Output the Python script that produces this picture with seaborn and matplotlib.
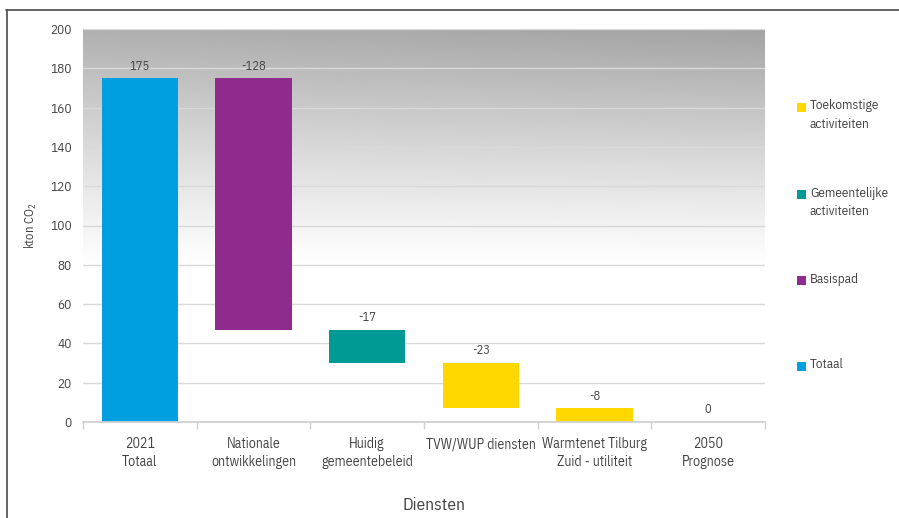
import numpy as np
import pandas as pd
import matplotlib
matplotlib.use("Agg")
import matplotlib.pyplot as plt
import seaborn as sns
from matplotlib.patches import Rectangle
from matplotlib.lines import Line2D

# --- data -------------------------------------------------------------
categories = ["2021\nTotaal", "Nationale\nontwikkelingen", "Huidig\ngemeentebeleid",
              "TVW/WUP diensten", "Warmtenet Tilburg\nZuid - utiliteit", "2050\nPrognose"]
values = [175, -128, -17, -23, -8, 0]
kinds = ["total", "delta", "delta", "delta", "delta", "total"]
groups = ["Totaal", "Basispad", "Gemeentelijke\nactiviteiten", "Toekomstige\nactiviteiten",
          "Toekomstige\nactiviteiten", "Totaal"]
legend_order = ["Toekomstige\nactiviteiten", "Gemeentelijke\nactiviteiten", "Basispad", "Totaal"]
group_colors = {"Totaal": "#009FDF", "Basispad": "#8E2B8C",
                "Gemeentelijke\nactiviteiten": "#009A96", "Toekomstige\nactiviteiten": "#FFD800"}

# waterfall geometry from the step values
bottoms, heights, tops = [], [], []
level = 0
for v, k in zip(values, kinds):
    if k == "total":
        level = v
        bottoms.append(0); heights.append(v); tops.append(v)
    else:
        new = level + v
        bottoms.append(min(level, new)); heights.append(abs(v)); tops.append(max(level, new))
        level = new

df = pd.DataFrame({"categorie": categories, "hoogte": heights, "basis": bottoms})

# --- style ------------------------------------------------------------
sns.set_theme(style="white")
FONT = "IBM Plex Sans Condensed"
plt.rcParams["font.family"] = [FONT, "DejaVu Sans"]
plt.rcParams["mathtext.fontset"] = "custom"
plt.rcParams["mathtext.rm"] = FONT
text_color = "#444444"

fig = plt.figure(figsize=(8.99, 5.18), dpi=100)
ax = fig.add_axes([83 / 899, 1 - 422 / 518, 682 / 899, 393 / 518])

# grey-to-white gradient backdrop
ny, nx = 200, 200
yy, xx = np.mgrid[0:1:ny * 1j, 0:1:nx * 1j]
d = np.clip((yy - 0.40) / 0.60, 0, 1) ** 1.1 * (0.86 + 0.14 * xx)
shade = 1 - 0.36 * d
img = np.dstack([shade, shade, shade])
ax.imshow(img, origin="lower", extent=[0, 1, 0, 1], transform=ax.transAxes,
          aspect="auto", zorder=0, interpolation="bilinear")

sns.barplot(data=df, x="categorie", y="hoogte", bottom=df["basis"].values,
            width=0.67, color=group_colors["Totaal"], ax=ax, zorder=3,
            linewidth=0, saturation=1)
for patch, g in zip(ax.patches, groups):
    patch.set_facecolor(group_colors[g])

# value labels above each bar
for i, (v, t) in enumerate(zip(values, tops)):
    ax.annotate(f"{v}", (i, t), xytext=(0, 4), textcoords="offset points",
                ha="center", va="bottom", fontsize=9, color=text_color, zorder=4)

ax.set_ylim(0, 200)
ax.set_xlim(-0.5, len(categories) - 0.5)
ax.set_yticks(range(0, 201, 20))
ax.yaxis.grid(True, color="#d9d9d9", linewidth=1)
for gl in ax.get_ygridlines():
    gl.set_zorder(1)

for side in ["left", "right", "top"]:
    ax.spines[side].set_visible(False)
ax.spines["bottom"].set_color("#cfcfcf")
ax.spines["bottom"].set_zorder(5)

ax.tick_params(axis="y", length=0, pad=8, labelsize=9.5, labelcolor=text_color)
ax.tick_params(axis="x", which="major", length=0, pad=11, labelsize=10, labelcolor=text_color)
for lbl in ax.get_xticklabels():
    lbl.set_linespacing(1.35)
ax.set_xticks(np.arange(-0.5, len(categories), 1), minor=True)
ax.tick_params(axis="x", which="minor", length=5, width=1, color="#cfcfcf", bottom=True)

ax.set_ylabel("kton CO$_2$", fontsize=9, color=text_color, labelpad=8)
ax.set_xlabel("Diensten", fontsize=12.5, color=text_color)
ax.xaxis.set_label_coords(0.515, -0.19)

# legend entries
ys = [107, 194.5, 280.5, 366.5]
for g, y in zip(legend_order, ys):
    fig.add_artist(Rectangle((797 / 899, 1 - (y + 4.5) / 518), 9 / 899, 9 / 518,
                             transform=fig.transFigure, facecolor=group_colors[g],
                             edgecolor="none"))
    fig.text(810 / 899, 1 - (y - 8) / 518, g, ha="left", va="top", fontsize=9.5,
             color=text_color, linespacing=1.55)

# frame lines along the top and left of the figure
fig.add_artist(Line2D([6 / 899, 1], [1 - 9.5 / 518, 1 - 9.5 / 518],
                      transform=fig.transFigure, color="#4a4a4a", linewidth=1.2))
fig.add_artist(Line2D([6.5 / 899, 6.5 / 899], [0, 1 - 9.5 / 518],
                      transform=fig.transFigure, color="#4a4a4a", linewidth=1.2))

fig.savefig("out.png", dpi=100)
